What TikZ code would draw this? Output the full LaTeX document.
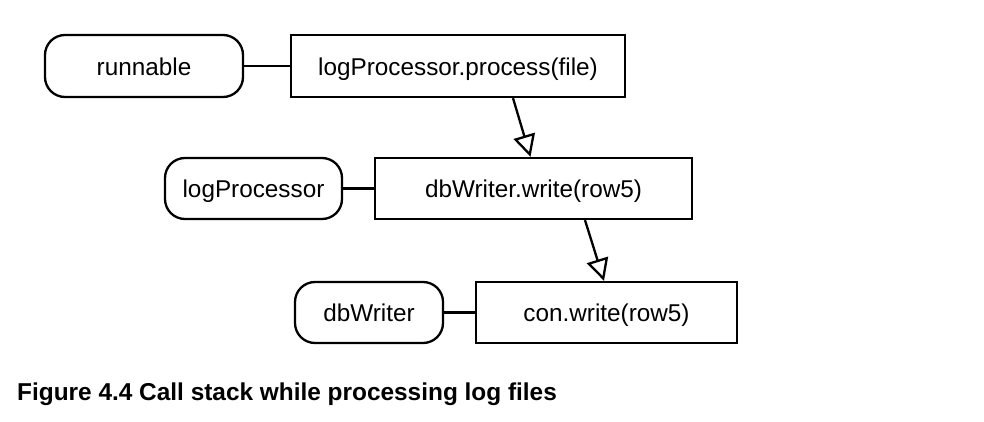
\documentclass[tikz,border=0pt]{standalone}
\usepackage{fontspec}
\setmainfont{Liberation Sans}
\usetikzlibrary{arrows.meta}
\begin{document}
\begin{tikzpicture}[x=1pt,y=-1pt,
  every node/.style={font=\fontsize{24.3}{28}\selectfont, inner sep=0pt, text height=18.5pt, text depth=0pt},
  objbox/.style={draw, line width=2.3pt, rounded corners=20pt},
  callbox/.style={draw, line width=2.3pt},
  link/.style={line width=2.3pt},
  callarrow/.style={line width=2.3pt, -{Triangle[open,length=22pt,width=22pt,line width=2.3pt]}}
]
\useasboundingbox[fill=white] (0,0) rectangle (984,422);
\node[objbox, minimum width=198pt, minimum height=62pt] (runnable) at (144,66) {runnable};
\node[callbox, minimum width=334pt, minimum height=62pt] (proc) at (458,66) {logProcessor.process(file)};
\node[objbox, minimum width=177pt, minimum height=61pt] (lp) at (253.5,188.5) {logProcessor};
\node[callbox, minimum width=317pt, minimum height=61pt] (w1) at (533.5,188.5) {dbWriter.write(row5)};
\node[objbox, minimum width=148pt, minimum height=61pt] (dbw) at (369,312.5) {dbWriter};
\node[callbox, minimum width=261pt, minimum height=61pt] (w2) at (606.5,312.5) {con.write(row5)};
\draw[link] (runnable) -- (proc);
\draw[link] (lp) -- (w1);
\draw[link] (dbw) -- (w2);
\draw[callarrow] ([xshift=55]proc.south) -- ([xshift=-3]w1.north);
\draw[callarrow] ([xshift=51.5]w1.south) -- ([xshift=-2.5]w2.north);
\node[anchor=base west, font=\fontsize{24.4}{28}\selectfont\bfseries, text height=, text depth=] (cap) at (17,400) {Figure 4.4 Call stack while processing log files};
\end{tikzpicture}
\end{document}
